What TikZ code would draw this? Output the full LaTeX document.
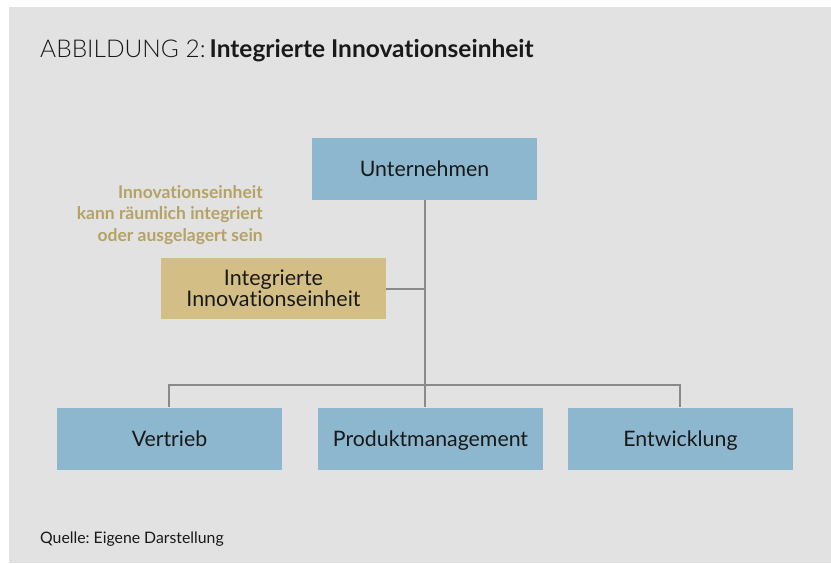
\documentclass[tikz,border=0pt]{standalone}
\usepackage{fontspec}
\setmainfont{Lato}[Ligatures=NoCommon]
\newfontfamily\latolight{Lato Light}[Ligatures=NoCommon]
\frenchspacing
\definecolor{bgpanel}{HTML}{E2E2E2}
\definecolor{boxblue}{HTML}{8DB7CE}
\definecolor{boxgold}{HTML}{D3BF86}
\definecolor{notegold}{HTML}{B5A265}
\definecolor{linegray}{HTML}{8A8A8A}
\begin{document}
\begin{tikzpicture}[x=1pt,y=-1pt,
  orgbox/.style={fill=boxblue, minimum width=225pt, minimum height=62pt, inner sep=0pt, text height=15.3pt, text depth=0pt, font=\fontsize{21.3}{24}\selectfont, text=black!90},
  goldbox/.style={fill=boxgold, minimum width=225pt, minimum height=61pt, inner sep=0pt, align=center, font=\fontsize{21.5}{21}\selectfont, text=black!90},
  conn/.style={draw=linegray, line width=2pt}]
\useasboundingbox (0,0) rectangle (831,563);
\fill[white] (0,0) rectangle (831,563);
\fill[bgpanel] (9,7) rectangle (831,563);
\node[anchor=base west, inner sep=0pt, font=\fontsize{24.5}{26}\selectfont, text=black!90] (title) at (40,57) {{\latolight ABBILDUNG 2:}\hspace{4pt}\textbf{Integrierte Innovationseinheit}};
\node[orgbox] (u) at (424.5,169) {Unternehmen};
\node[goldbox] (g) at (273.5,288.5) {Integrierte\\Innovationseinheit};
\node[anchor=east, inner sep=0pt, align=right, text=notegold, font=\bfseries\fontsize{17.5}{21.2}\selectfont] (note) at (263,215) {Innovationseinheit\\kann räumlich integriert\\oder ausgelagert sein};
\node[orgbox] (v) at (169.5,438.5) {Vertrieb};
\node[orgbox] (p) at (430.5,438.5) {Produktmanagement};
\node[orgbox] (e) at (680.5,438.5) {Entwicklung};
\coordinate (jg) at (425,288.5);
\coordinate (jl) at (169,385);
\coordinate (jr) at (680,385);
\coordinate (jm) at (425,385);
\draw[conn] (u.south -| jm) -- (p.north -| jm);
\draw[conn] (g.east) -- (jg);
\draw[conn] (v.north -| jl) -- (jl) -- (jr) -- (e.north -| jr);
\node[anchor=base west, inner sep=0pt, font=\fontsize{15.8}{17}\selectfont, text=black!90] (src) at (40,543) {Quelle: Eigene Darstellung};
\end{tikzpicture}
\end{document}
